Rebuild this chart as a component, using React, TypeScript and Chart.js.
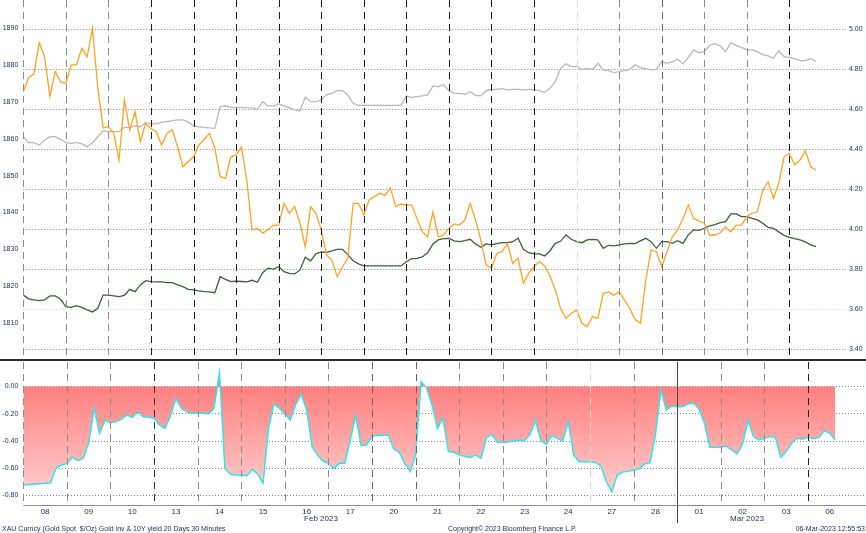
import { useEffect, useRef } from "react";
import { Chart, registerables } from "chart.js";

Chart.register(...registerables);

// trading days shown on the x axis (Feb 8 2023 -> Mar 6 2023)
const dayLabels = ["08", "09", "10", "13", "14", "15", "16", "17", "20", "21", "22", "23", "24", "27", "28", "01", "02", "03", "06"];
const pointsPerDay = 8;

// XAU spot, $/oz (left axis)
const goldSpot = [
  1872.7, 1876.6, 1877.5, 1886.0, 1882.2, 1871.4, 1878.2, 1875.4,
  1875.0, 1880.0, 1880.0, 1884.5, 1882.2, 1889.9, 1873.9, 1862.9,
  1863.3, 1861.5, 1854.2, 1870.5, 1862.4, 1867.3, 1859.2, 1864.2,
  1862.8, 1861.9, 1858.3, 1861.5, 1862.4, 1857.8, 1852.4, 1853.8,
  1855.1, 1858.3, 1859.8, 1861.5, 1857.4, 1849.7, 1849.3, 1855.1,
  1855.6, 1857.8, 1848.8, 1835.3, 1835.7, 1834.4, 1835.3, 1836.6,
  1836.6, 1842.5, 1839.8, 1841.6, 1837.1, 1830.7, 1841.6, 1839.8,
  1835.3, 1828.5, 1827.1, 1822.6, 1825.3, 1827.6, 1842.5, 1842.5,
  1839.3, 1843.4, 1844.3, 1845.2, 1844.7, 1846.6, 1841.6, 1842.3,
  1842.0, 1842.0, 1838.4, 1834.8, 1833.4, 1840.2, 1833.4, 1833.9,
  1835.7, 1836.9, 1836.6, 1838.0, 1842.5, 1838.0, 1832.5, 1825.8,
  1824.9, 1828.9, 1829.4, 1831.6, 1826.2, 1827.6, 1820.8, 1823.5,
  1825.3, 1826.7, 1825.5, 1822.8, 1819.0, 1814.0, 1811.3, 1812.7,
  1813.6, 1810.0, 1809.1, 1811.8, 1811.3, 1818.1, 1818.5, 1817.6,
  1818.5, 1816.3, 1814.0, 1811.0, 1810.0, 1821.7, 1829.8, 1829.4,
  1825.3, 1829.4, 1833.4, 1835.3, 1838.4, 1842.0, 1838.4, 1837.7,
  1837.1, 1833.9, 1833.9, 1834.5, 1836.1, 1834.8, 1836.6, 1836.6,
  1838.9, 1839.8, 1840.2, 1846.1, 1848.3, 1843.8, 1847.9, 1855.1,
  1856.0, 1852.9, 1854.2, 1856.7, 1852.4, 1851.5,
];

// 2Y yield, % (right axis, grey)
const yield2y = [
  4.463, 4.433, 4.433, 4.42, 4.447, 4.463, 4.463, 4.45,
  4.433, 4.43, 4.435, 4.427, 4.413, 4.433, 4.463, 4.493,
  4.488, 4.488, 4.488, 4.51, 4.51, 4.517, 4.513, 4.533,
  4.527, 4.528, 4.535, 4.538, 4.543, 4.547, 4.547, 4.537,
  4.517, 4.512, 4.51, 4.507, 4.505, 4.613, 4.617, 4.61,
  4.61, 4.61, 4.608, 4.607, 4.6, 4.638, 4.617, 4.617,
  4.627, 4.617, 4.608, 4.597, 4.593, 4.66, 4.638, 4.638,
  4.647, 4.672, 4.68, 4.693, 4.693, 4.672, 4.63, 4.62,
  4.62, 4.62, 4.62, 4.62, 4.62, 4.62, 4.62, 4.62,
  4.667, 4.66, 4.663, 4.667, 4.672, 4.717, 4.713, 4.723,
  4.693, 4.68, 4.68, 4.675, 4.688, 4.67, 4.667, 4.693,
  4.7, 4.7, 4.703, 4.697, 4.7, 4.7, 4.697, 4.7,
  4.697, 4.693, 4.685, 4.705, 4.738, 4.805, 4.827, 4.813,
  4.813, 4.8, 4.805, 4.8, 4.83, 4.797, 4.793, 4.783,
  4.788, 4.793, 4.8, 4.822, 4.808, 4.803, 4.797, 4.8,
  4.838, 4.83, 4.838, 4.85, 4.827, 4.86, 4.897, 4.883,
  4.888, 4.92, 4.928, 4.917, 4.888, 4.933, 4.92, 4.91,
  4.897, 4.897, 4.887, 4.873, 4.867, 4.855, 4.893, 4.863,
  4.86, 4.852, 4.843, 4.843, 4.853, 4.84,
];

// 10Y yield, % (right axis, dark green)
const yield10y = [
  3.671, 3.652, 3.647, 3.643, 3.647, 3.667, 3.667, 3.65,
  3.613, 3.61, 3.618, 3.61, 3.597, 3.587, 3.605, 3.671,
  3.671, 3.667, 3.663, 3.67, 3.7, 3.688, 3.722, 3.743,
  3.738, 3.737, 3.737, 3.733, 3.733, 3.722, 3.713, 3.7,
  3.697, 3.692, 3.688, 3.687, 3.683, 3.763, 3.75, 3.738,
  3.741, 3.739, 3.737, 3.745, 3.735, 3.783, 3.806, 3.801,
  3.813, 3.788, 3.78, 3.777, 3.797, 3.86, 3.842, 3.877,
  3.887, 3.885, 3.892, 3.9, 3.9, 3.872, 3.843, 3.827,
  3.817, 3.817, 3.817, 3.817, 3.817, 3.817, 3.817, 3.817,
  3.838, 3.853, 3.855, 3.862, 3.883, 3.927, 3.947, 3.953,
  3.955, 3.942, 3.938, 3.943, 3.95, 3.927, 3.91, 3.927,
  3.922, 3.928, 3.933, 3.933, 3.938, 3.955, 3.9, 3.883,
  3.877, 3.877, 3.867, 3.893, 3.93, 3.94, 3.972, 3.95,
  3.938, 3.933, 3.947, 3.95, 3.947, 3.905, 3.92, 3.917,
  3.922, 3.927, 3.93, 3.928, 3.942, 3.955, 3.938, 3.905,
  3.938, 3.938, 3.93, 3.943, 3.93, 3.972, 3.997, 3.995,
  4.005, 4.017, 4.023, 4.033, 4.038, 4.077, 4.077, 4.063,
  4.063, 4.055, 4.047, 4.03, 4.01, 4.005, 3.987, 3.97,
  3.96, 3.953, 3.947, 3.937, 3.922, 3.913,
];

// rolling 20 day correlation, gold vs 10Y yield (bottom panel)
const goldCorr = [
  -0.723, -0.72, -0.716, -0.713, -0.71, -0.706, -0.6, -0.576,
  -0.564, -0.52, -0.544, -0.527, -0.417, -0.16, -0.344, -0.246,
  -0.266, -0.258, -0.241, -0.209, -0.226, -0.185, -0.222, -0.226,
  -0.233, -0.283, -0.307, -0.217, -0.087, -0.16, -0.185, -0.197,
  -0.197, -0.197, -0.202, -0.16, 0.1, -0.6, -0.642, -0.65,
  -0.65, -0.657, -0.608, -0.642, -0.71, -0.307, -0.128, -0.16,
  -0.204, -0.246, -0.131, -0.057, -0.172, -0.442, -0.503, -0.547,
  -0.564, -0.6, -0.564, -0.564, -0.393, -0.214, -0.434, -0.429,
  -0.368, -0.356, -0.358, -0.358, -0.459, -0.483, -0.564, -0.625,
  -0.503, 0.035, -0.01, -0.136, -0.307, -0.233, -0.478, -0.483,
  -0.503, -0.512, -0.522, -0.503, -0.527, -0.376, -0.351, -0.41,
  -0.41, -0.405, -0.402, -0.393, -0.4, -0.351, -0.25, -0.4,
  -0.424, -0.361, -0.38, -0.4, -0.258, -0.503, -0.552, -0.552,
  -0.552, -0.557, -0.583, -0.699, -0.772, -0.65, -0.628, -0.623,
  -0.613, -0.606, -0.569, -0.559, -0.356, -0.026, -0.172, -0.143,
  -0.148, -0.148, -0.128, -0.119, -0.167, -0.27, -0.446, -0.446,
  -0.444, -0.437, -0.466, -0.495, -0.42, -0.246, -0.368, -0.393,
  -0.38, -0.368, -0.372, -0.52, -0.478, -0.417, -0.38, -0.387,
  -0.371, -0.382, -0.374, -0.324, -0.344, -0.393,
];

const goldTicks = [1810, 1820, 1830, 1840, 1850, 1860, 1870, 1880, 1890];
const yieldTicks = [3.4, 3.6, 3.8, 4.0, 4.2, 4.4, 4.6, 4.8, 5.0];
const corrTicks = [-0.8, -0.6, -0.4, -0.2, 0];

const FONT = "'Liberation Sans', Arial, sans-serif";
const TEXT = "#1f2d50";
const X_MAX = 19.33;

const toPoints = (vals: number[]) => vals.map((y, i) => ({ x: i / pointsPerDay, y }));

// dashed separators between trading days; one solid line at the month change
const dayLines = (colors: string[], solidAt = -1, solidExtra = 0) => ({
  id: "dayLines",
  afterDatasetsDraw(chart: any) {
    const { ctx, chartArea } = chart;
    const xs = chart.scales.x;
    ctx.save();
    ctx.lineWidth = 1;
    for (let d = 0; d < dayLabels.length; d++) {
      const px = Math.round(xs.getPixelForValue(d)) + 0.5;
      ctx.strokeStyle = colors[d];
      ctx.setLineDash(d === solidAt ? [] : [7, 5]);
      ctx.beginPath();
      ctx.moveTo(px, chartArea.top);
      ctx.lineTo(px, chartArea.bottom + (d === solidAt ? solidExtra : 0));
      ctx.stroke();
    }
    ctx.restore();
  },
});

// right edge and bottom line of the lower panel
const frame = {
  id: "frame",
  afterDraw(chart: any) {
    const { ctx, chartArea } = chart;
    ctx.save();
    ctx.strokeStyle = "#8a8a8a";
    ctx.lineWidth = 1;
    ctx.beginPath();
    ctx.moveTo(Math.round(chartArea.right) + 0.5, chartArea.top);
    ctx.lineTo(Math.round(chartArea.right) + 0.5, chartArea.bottom);
    ctx.moveTo(chartArea.left, Math.round(chartArea.bottom) + 0.5);
    ctx.lineTo(chartArea.right, Math.round(chartArea.bottom) + 0.5);
    ctx.stroke();
    ctx.restore();
  },
};

const G = "#8c8c8c";
const D = "#1c1c1c";
const topLineColors = [G, G, G, D, D, D, D, D, D, D, D, D, D, "#dcdcdc", G, "#6a6a6a", G, G, D];
const bottomLineColors = [G, G, G, "#333", G, G, G, G, "#666", "#666", G, G, G, "#d6d6d6", G, "#444", G, G, "#222"];

const fixWidth = (w: number) => (s: any) => {
  s.width = w;
  s.paddingTop = 0;
  s.paddingBottom = 0;
};

export default function App() {
  const topRef = useRef<HTMLCanvasElement | null>(null);
  const bottomRef = useRef<HTMLCanvasElement | null>(null);

  useEffect(() => {
    if (!topRef.current || !bottomRef.current) return;
    const tickFont = { family: FONT, size: 7 };

    const top = new Chart(topRef.current, {
      type: "line",
      data: {
        datasets: [
          { data: toPoints(goldSpot), yAxisID: "yL", borderColor: "#ffa21f", borderWidth: 1.3 },
          { data: toPoints(yield10y), yAxisID: "yR", borderColor: "#3f5e3f", borderWidth: 1.3 },
          { data: toPoints(yield2y), yAxisID: "yR", borderColor: "#b4b9c0", borderWidth: 1.3 },
        ],
      },
      options: {
        responsive: false,
        animation: false,
        layout: { padding: 0, autoPadding: false },
        elements: { point: { radius: 0 }, line: { tension: 0 } },
        plugins: { legend: { display: false }, tooltip: { enabled: false } },
        scales: {
          x: { type: "linear", min: 0, max: X_MAX, display: false },
          yL: {
            position: "left",
            min: 1800.57,
            max: 1897.59,
            afterFit: fixWidth(23.3),
            afterBuildTicks: (a: any) => { a.ticks = goldTicks.map((value) => ({ value })); },
            grid: { display: false, drawTicks: false },
            border: { display: false },
            ticks: { font: tickFont, color: TEXT, padding: 5, callback: (v: any) => String(v) },
          },
          yR: {
            position: "right",
            min: 3.3565,
            max: 5.1465,
            afterFit: fixWidth(20),
            afterBuildTicks: (a: any) => { a.ticks = yieldTicks.map((value) => ({ value })); },
            grid: {
              drawTicks: false,
              color: (c: any) => (c.tick && Math.abs(c.tick.value - 3.6) < 1e-6 ? "#d2d2d2" : "#7c7c7c"),
            },
            border: { display: false, dash: [1, 2] },
            ticks: { font: tickFont, color: TEXT, padding: 3, callback: (v: any) => Number(v).toFixed(2) },
          },
        },
      } as any,
      plugins: [dayLines(topLineColors)],
    });

    const bottom = new Chart(bottomRef.current, {
      type: "line",
      data: {
        datasets: [
          {
            data: toPoints(goldCorr),
            borderColor: "#33e4e8",
            borderWidth: 1.5,
            fill: "origin",
            backgroundColor: (c: any) => {
              const ch = c.chart;
              const area = ch.chartArea;
              if (!area) return "#ff9090";
              const y0 = ch.scales.y.getPixelForValue(0);
              const g = ch.ctx.createLinearGradient(0, y0, 0, area.bottom);
              g.addColorStop(0, "#ff7f7f");
              g.addColorStop(1, "#ffd6d6");
              return g;
            },
          },
        ],
      },
      options: {
        responsive: false,
        animation: false,
        layout: { padding: 0, autoPadding: false },
        elements: { point: { radius: 0 }, line: { tension: 0 } },
        plugins: { legend: { display: false }, tooltip: { enabled: false } },
        scales: {
          x: {
            type: "linear",
            min: 0,
            max: X_MAX,
            afterFit: (s: any) => { s.height = 28; s.paddingLeft = 0; s.paddingRight = 0; },
            afterBuildTicks: (a: any) => { a.ticks = dayLabels.map((_, i) => ({ value: i + 0.5 })); },
            grid: { display: false, drawTicks: false },
            border: { display: false },
            ticks: {
              font: { family: FONT, size: 8 },
              color: TEXT,
              padding: 2,
              autoSkip: false,
              maxRotation: 0,
              callback: (_v: any, i: number) => dayLabels[i],
            },
          },
          y: {
            position: "left",
            min: -0.8697,
            max: 0.1798,
            z: 1,
            afterFit: fixWidth(23.3),
            afterBuildTicks: (a: any) => { a.ticks = corrTicks.map((value) => ({ value })); },
            grid: { drawTicks: false, color: "#7c7c7c" },
            border: { display: false, dash: [1, 2] },
            ticks: { font: tickFont, color: TEXT, padding: 5, callback: (v: any) => Number(v).toFixed(2) },
          },
        },
      } as any,
      plugins: [dayLines(bottomLineColors, 15, 18), frame],
    });

    return () => {
      top.destroy();
      bottom.destroy();
    };
  }, []);

  const small = { position: "absolute" as const, fontSize: 7, lineHeight: "9px", whiteSpace: "pre" as const };
  const month = { position: "absolute" as const, fontSize: 8, lineHeight: "10px", transform: "translateX(-50%)", whiteSpace: "pre" as const };

  return (
    <div
      style={{
        position: "absolute",
        left: 0,
        top: 0,
        width: 866,
        height: 533,
        background: "#fff",
        overflow: "hidden",
        fontFamily: FONT,
        color: TEXT,
      }}
    >
      <canvas ref={topRef} width={866} height={358} style={{ position: "absolute", left: 0, top: 0 }} />
      <div style={{ position: "absolute", left: 0, top: 359, width: 866, height: 2, background: "#2e2e2e" }} />
      <canvas ref={bottomRef} width={866} height={171} style={{ position: "absolute", left: 0, top: 362 }} />
      <div style={{ ...month, left: 321, top: 514 }}>Feb 2023</div>
      <div style={{ ...month, left: 747, top: 514 }}>Mar 2023</div>
      <div style={{ ...small, left: 2, top: 524 }}>XAU Curncy (Gold Spot  $/Oz) Gold inv &amp; 10Y yield 20 Days 30 Minutes</div>
      <div style={{ ...small, left: 448, top: 524 }}>Copyright© 2023 Bloomberg Finance L.P.</div>
      <div style={{ ...small, right: 1, top: 524 }}>06-Mar-2023 12:55:53</div>
    </div>
  );
}
